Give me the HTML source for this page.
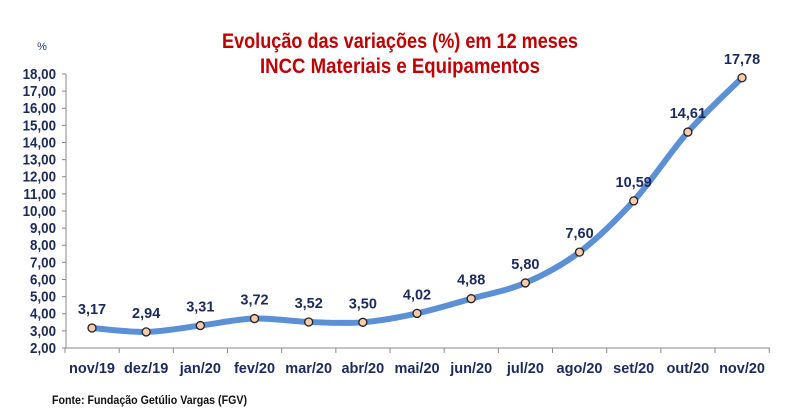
<!DOCTYPE html>
<html><head><meta charset="utf-8"><style>
body{margin:0;background:#fff;}
svg{display:block;font-family:"Liberation Sans",sans-serif;}
</style></head><body>
<svg id="s" width="791" height="420" viewBox="0 0 791 420" xmlns="http://www.w3.org/2000/svg">
<text x="400" y="48" text-anchor="middle" font-size="21" font-weight="bold" fill="#C00000" textLength="356" lengthAdjust="spacingAndGlyphs">Evolução das variações (%) em 12 meses</text>
<text x="400" y="73" text-anchor="middle" font-size="21" font-weight="bold" fill="#C00000" textLength="280" lengthAdjust="spacingAndGlyphs">INCC Materiais e Equipamentos</text>
<text x="42" y="50" text-anchor="middle" font-size="11" fill="#1F3864">%</text>
<text x="52" y="404" font-size="11.5" font-weight="bold" fill="#111" textLength="195" lengthAdjust="spacingAndGlyphs">Fonte: Fundação Getúlio Vargas (FGV)</text>
<g id="g"></g>
</svg>
<script>
var g=document.getElementById('g'),h='';
var C='#1B2A5C';
var vals=[3.17,2.94,3.31,3.72,3.52,3.50,4.02,4.88,5.80,7.60,10.59,14.61,17.78];
var labs=['nov/19','dez/19','jan/20','fev/20','mar/20','abr/20','mai/20','jun/20','jul/20','ago/20','set/20','out/20','nov/20'];
function Y(v){return 348-(v-2)*17.125;}
var step=54.17;
h+='<line x1="66" y1="74" x2="66" y2="348" stroke="#888" stroke-width="1"/>';
h+='<line x1="66" y1="348" x2="770" y2="348" stroke="#888" stroke-width="1"/>';
for(var v=2;v<=18;v++){var y=Y(v);
h+='<line x1="62" y1="'+y+'" x2="66" y2="'+y+'" stroke="#888"/>';
h+='<text x="56" y="'+(y+5)+'" text-anchor="end" font-size="14.5" font-weight="bold" fill="'+C+'" transform="translate(56,0) scale(0.92,1) translate(-56,0)">'+v+',00</text>';}
for(var k=0;k<=13;k++){var x=65+k*step;h+='<line x1="'+x+'" y1="348" x2="'+x+'" y2="353" stroke="#888"/>';}
var P=vals.map(function(v,i){return [92+step*i,Y(v)];});
var d='M'+P[0][0]+','+P[0][1];
for(var i=0;i<P.length-1;i++){var p0=P[Math.max(i-1,0)],p1=P[i],p2=P[i+1],p3=P[Math.min(i+2,P.length-1)];
var t=6;d+=' C'+(p1[0]+(p2[0]-p0[0])/t)+','+(p1[1]+(p2[1]-p0[1])/t)+' '+(p2[0]-(p3[0]-p1[0])/t)+','+(p2[1]-(p3[1]-p1[1])/t)+' '+p2[0]+','+p2[1];}
h+='<path d="'+d+'" fill="none" stroke="#5B8FD6" stroke-width="6" stroke-linecap="round"/>';
P.forEach(function(p,i){
h+='<circle cx="'+p[0]+'" cy="'+p[1]+'" r="4" fill="#F8CBAD" stroke="#222" stroke-width="1.3"/>';
h+='<text x="'+p[0]+'" y="'+(p[1]-14)+'" text-anchor="middle" font-size="14.5" font-weight="bold" fill="'+C+'">'+vals[i].toFixed(2).replace('.',',')+'</text>';
h+='<text x="'+p[0]+'" y="373" text-anchor="middle" font-size="14.5" font-weight="bold" fill="'+C+'">'+labs[i]+'</text>';});
g.innerHTML=h;
</script>
</body></html>
